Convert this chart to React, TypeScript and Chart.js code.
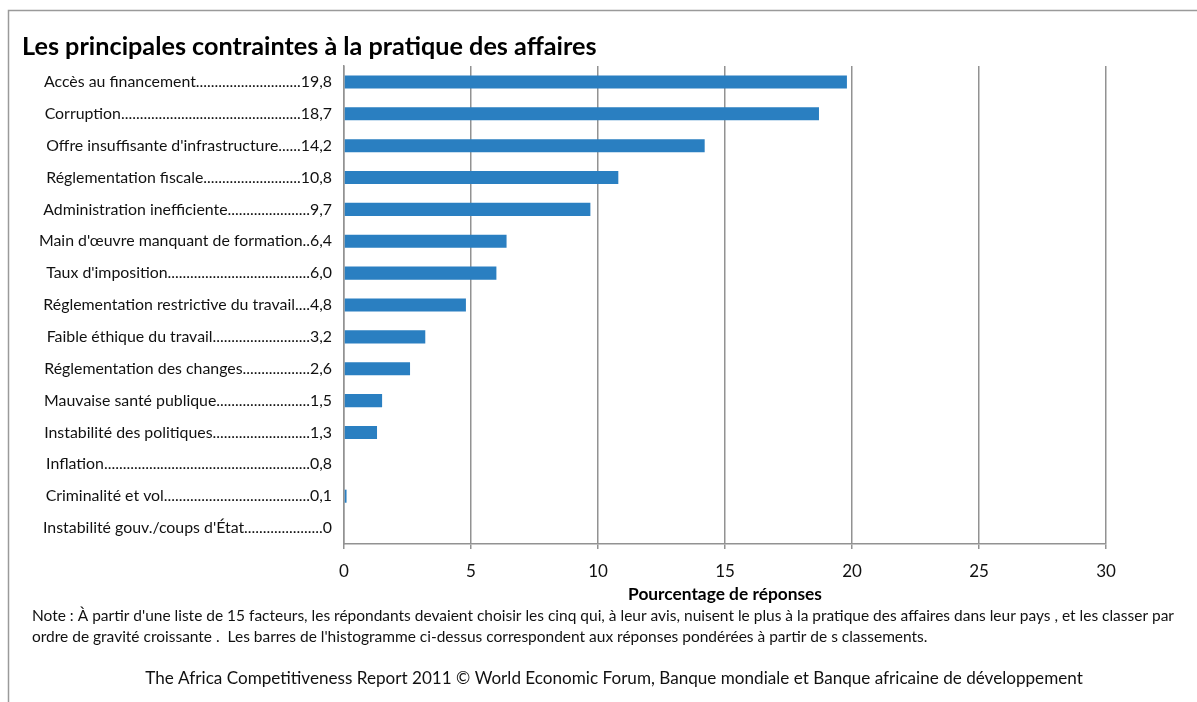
import React, { useEffect, useRef } from "react";
import { Chart, registerables } from "chart.js";

Chart.register(...registerables);

const categories = [
  "Accès au financement",
  "Corruption",
  "Offre insuffisante d'infrastructure",
  "Réglementation fiscale",
  "Administration inefficiente",
  "Main d'œuvre manquant de formation",
  "Taux d'imposition",
  "Réglementation restrictive du travail",
  "Faible éthique du travail",
  "Réglementation des changes",
  "Mauvaise santé publique",
  "Instabilité des politiques",
  "Inflation",
  "Criminalité et vol",
  "Instabilité gouv./coups d'État",
];

// values printed in the category labels
const reportedValues = [19.8, 18.7, 14.2, 10.8, 9.7, 6.4, 6.0, 4.8, 3.2, 2.6, 1.5, 1.3, 0.8, 0.1, 0];

// bar lengths as drawn in the picture (no bar is drawn for Inflation)
const barValues = [19.8, 18.7, 14.2, 10.8, 9.7, 6.4, 6.0, 4.8, 3.2, 2.6, 1.5, 1.3, null, 0.1, 0];

const xTickValues = [0, 5, 10, 15, 20, 25, 30];

const TITLE = "Les principales contraintes à la pratique des affaires";
const X_AXIS_TITLE = "Pourcentage de réponses";
const NOTE_LINES = [
  "Note : À partir d'une liste de 15 facteurs, les répondants devaient choisir les cinq qui, à leur avis, nuisent le plus à la pratique des affaires dans leur pays , et les classer par",
  "ordre de gravité croissante .  Les barres de l'histogramme ci-dessus correspondent aux réponses pondérées à partir de s classements.",
];
const SOURCE = "The Africa Competitiveness Report 2011 © World Economic Forum, Banque mondiale et Banque africaine de développement";

const FAMILY = "Lato, 'Open Sans', sans-serif";
const BAR_COLOR = "#2a7fc1";
const GRID_COLOR = "#929292";
const TEXT_COLOR = "#111111";

function fmt(v: number): string {
  return v === 0 ? "0" : v.toFixed(1).replace(".", ",");
}

export default function App() {
  const canvasRef = useRef<HTMLCanvasElement | null>(null);

  useEffect(() => {
    const canvas = canvasRef.current;
    if (!canvas) return;

    const measurer = document.createElement("canvas").getContext("2d")!;
    const fitSize = (text: string, weight: string, target: number) => {
      measurer.font = `${weight} 20px ${FAMILY}`;
      const w = measurer.measureText(text).width;
      return (20 * target) / w;
    };

    const yFontSize = fitSize("Accès au financement", "normal", 152);
    const labelTarget = 289;
    const leaderLabel = (i: number) => {
      measurer.font = `normal ${yFontSize}px ${FAMILY}`;
      const name = categories[i];
      const val = fmt(reportedValues[i]);
      let dots = "..";
      while (measurer.measureText(name + dots + "." + val).width <= labelTarget) dots += ".";
      return name + dots + val;
    };

    const decor = {
      id: "decor",
      beforeDraw(chart: any) {
        const ctx = chart.ctx;
        ctx.save();
        ctx.fillStyle = "#ffffff";
        ctx.fillRect(0, 0, chart.width, chart.height);
        ctx.restore();
      },
      afterDraw(chart: any) {
        const ctx = chart.ctx;
        const area = chart.chartArea;
        ctx.save();
        // frame
        ctx.strokeStyle = "#9a9a9a";
        ctx.lineWidth = 1.5;
        ctx.beginPath();
        ctx.moveTo(8.5, chart.height);
        ctx.lineTo(8.5, 10.5);
        ctx.lineTo(chart.width, 10.5);
        ctx.stroke();

        ctx.fillStyle = "#000000";
        ctx.textBaseline = "middle";
        // title
        ctx.textAlign = "left";
        ctx.font = `bold ${fitSize(TITLE, "bold", 575)}px ${FAMILY}`;
        ctx.fillText(TITLE, 22, 47);
        // axis title
        ctx.textAlign = "center";
        ctx.font = `bold ${fitSize(X_AXIS_TITLE, "bold", 194)}px ${FAMILY}`;
        ctx.fillText(X_AXIS_TITLE, (area.left + area.right) / 2, 594);
        // note
        ctx.textAlign = "left";
        ctx.fillStyle = TEXT_COLOR;
        ctx.font = `normal ${fitSize(NOTE_LINES[0], "normal", 1143)}px ${FAMILY}`;
        ctx.fillText(NOTE_LINES[0], 32, 616);
        ctx.fillText(NOTE_LINES[1], 32, 637);
        // source
        ctx.textAlign = "center";
        ctx.font = `normal ${fitSize(SOURCE, "normal", 938)}px ${FAMILY}`;
        ctx.fillText(SOURCE, 614, 678);
        ctx.restore();
      },
    };

    const chart = new Chart(canvas, {
      type: "bar",
      data: {
        labels: categories,
        datasets: [
          {
            data: barValues as any,
            backgroundColor: BAR_COLOR,
            borderWidth: 0,
            categoryPercentage: 1,
            barPercentage: 0.41,
          },
        ],
      },
      options: {
        indexAxis: "y",
        animation: false,
        responsive: false,
        maintainAspectRatio: false,
        devicePixelRatio: 1,
        layout: { padding: { top: 66, right: 91, left: 0, bottom: 0 } },
        plugins: {
          legend: { display: false },
          tooltip: { enabled: false },
          title: { display: false },
        },
        scales: {
          x: {
            type: "linear",
            position: "bottom",
            min: 0,
            max: 30,
            afterBuildTicks: (scale: any) => {
              scale.ticks = xTickValues.map((v) => ({ value: v }));
            },
            afterFit: (scale: any) => {
              scale.height = 702 - 544;
            },
            ticks: {
              font: { family: FAMILY, size: 17 },
              color: TEXT_COLOR,
              padding: 12,
              maxRotation: 0,
            },
            grid: {
              color: GRID_COLOR,
              lineWidth: 1.5,
              drawTicks: true,
              tickLength: 5,
            },
            border: { display: true, color: GRID_COLOR, width: 1.5 },
          },
          y: {
            type: "category",
            afterFit: (scale: any) => {
              scale.width = 344;
            },
            ticks: {
              font: { family: FAMILY, size: yFontSize },
              color: TEXT_COLOR,
              padding: 12,
              autoSkip: false,
              callback: (_v: any, i: number) => leaderLabel(i),
            },
            grid: { display: false, drawTicks: false },
            border: { display: true, color: GRID_COLOR, width: 1.5 },
          },
        },
      },
      plugins: [decor],
    });

    return () => chart.destroy();
  }, []);

  return (
    <div style={{ position: "fixed", left: 0, top: 0, width: 1197, height: 702, background: "#fff" }}>
      <canvas ref={canvasRef} width={1197} height={702} style={{ display: "block", width: 1197, height: 702 }} />
    </div>
  );
}
